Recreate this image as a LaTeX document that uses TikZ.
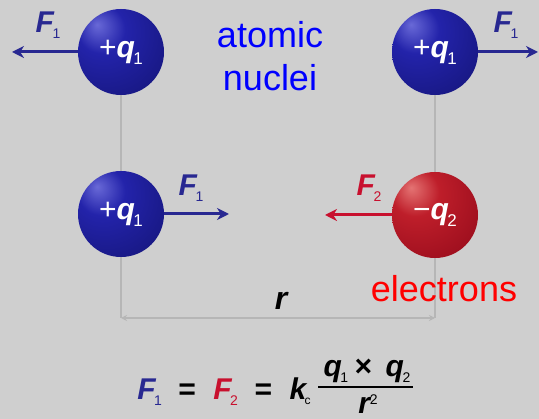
\documentclass[tikz,border=0pt]{standalone}
\usepackage{fontspec}
\setmainfont{Liberation Sans}
\usetikzlibrary{positioning,arrows.meta}

\definecolor{bggray}{RGB}{207,207,207}
\definecolor{rodgray}{RGB}{182,182,182}
\definecolor{navy}{RGB}{40,40,145}
\definecolor{crimson}{RGB}{200,16,46}
\definecolor{hiblue}{RGB}{105,105,215}
\definecolor{midblue}{RGB}{35,35,170}
\definecolor{darkblue}{RGB}{22,22,125}
\definecolor{rimblue}{RGB}{10,10,75}
\definecolor{hired}{RGB}{228,115,115}
\definecolor{midred}{RGB}{190,30,42}
\definecolor{darkred}{RGB}{152,12,28}
\definecolor{rimred}{RGB}{95,0,12}

\pgfdeclareradialshading{blueball}{\pgfpoint{-14bp}{16bp}}{color(0bp)=(hiblue); color(14bp)=(midblue); color(42bp)=(darkblue); color(70bp)=(rimblue); color(80bp)=(rimblue)}
\pgfdeclareradialshading{redball}{\pgfpoint{-14bp}{16bp}}{color(0bp)=(hired); color(14bp)=(midred); color(42bp)=(darkred); color(70bp)=(rimred); color(80bp)=(rimred)}

\newcommand{\bi}[1]{{\bfseries\itshape #1}}
\newcommand{\sub}[2][14]{\kern-1.5pt\raisebox{-\dimexpr#1pt*2/5\relax}{\fontsize{#1}{#1}\selectfont\mdseries\upshape #2}}

\tikzset{
  charge/.style={circle, minimum size=86pt, inner sep=0pt, text=white,
    font=\fontsize{30}{32}\selectfont},
  nucleus/.style={charge, shading=blueball},
  electron/.style={charge, shading=redball},
  rod/.style={rodgray, line width=2pt},
  force/.style={line width=3pt, -{Stealth[length=12pt,width=12pt]}},
  flabel/.style={font=\fontsize{30}{32}\selectfont},
  caption/.style={font=\fontsize{36}{43}\selectfont, align=center},
  law/.style={font=\fontsize{30}{32}\selectfont, anchor=base, inner sep=0pt}
}

\begin{document}
\begin{tikzpicture}[x=1pt, y=-1pt]
  \fill[bggray] (0,0) rectangle (539,419);
  \useasboundingbox (0,0) rectangle (539,419);

  % rods and distance
  \coordinate (pTL) at (121,52);
  \coordinate (pTR) at (435,52);
  \coordinate (pML) at (121,214);
  \coordinate (pMR) at (435,215);
  \coordinate (cornerL) at (121,318);
  \coordinate (cornerR) at (435,318);
  \draw[rod] (pTL) -- (cornerL);
  \draw[rod] (pTR) -- (cornerR);
  \draw[rod, line width=1.5pt, {Stealth[length=6pt,width=6pt]}-{Stealth[length=6pt,width=6pt]}] (cornerL) -- (cornerR);
  \node[law, font=\fontsize{32}{34}\selectfont] (dist) at (281,310) {\bi{r}};

  % charges
  \node[nucleus] (nucTL) at (pTL) {+\bi{q}\sub[17]{1}};
  \node[nucleus] (nucTR) at (pTR) {+\bi{q}\sub[17]{1}};
  \node[nucleus] (nucML) at (pML) {+\bi{q}\sub[17]{1}};
  \node[electron] (elec) at (pMR) {−\bi{q}\sub[17]{2}};

  % forces
  \coordinate (tipTL) at (12,52);
  \coordinate (tipTR) at (538,52);
  \coordinate (tipML) at (229,214);
  \coordinate (tipMR) at (325,215);
  \draw[force, navy] (nucTL) -- (tipTL);
  \draw[force, navy] (nucTR) -- (tipTR);
  \draw[force, navy] (nucML) -- (tipML);
  \draw[force, crimson] (elec) -- (tipMR);
  \node[flabel, navy] (fTL) at (48,25) {\bi{F}\sub{1}};
  \node[flabel, navy] (fTR) at (506,25) {\bi{F}\sub{1}};
  \node[flabel, navy] (fML) at (191,188) {\bi{F}\sub{1}};
  \node[flabel, crimson] (fMR) at (369,188) {\bi{F}\sub{2}};

  % captions
  \node[caption, blue] (nuclei) at (270,56) {atomic\\nuclei};
  \node[caption, red, anchor=base] (electrons) at (444,302) {electrons};

  % Coulomb law
  \node[law] (lhs) at (224,400)
    {{\color{navy}\bi{F}\sub{1}}\hspace{16pt}\bi{=}\hspace{18pt}{\color{crimson}\bi{F}\sub{2}}\hspace{16pt}\bi{=}\hspace{18pt}\bi{k}\sub[12]{c}};
  \node[law] (num) at (367,377) {\bi{q}\sub{1}\hspace{6pt}\bi{×}\hspace{14pt}\bi{q}\sub{2}};
  \node[law] (den) at (368,414) {\bi{r}\raisebox{9pt}{\fontsize{14}{14}\selectfont 2}};
  \coordinate (barL) at (318,387);
  \coordinate (barR) at (413,387);
  \draw[line width=2.8pt] (barL) -- (barR);
\end{tikzpicture}
\end{document}
